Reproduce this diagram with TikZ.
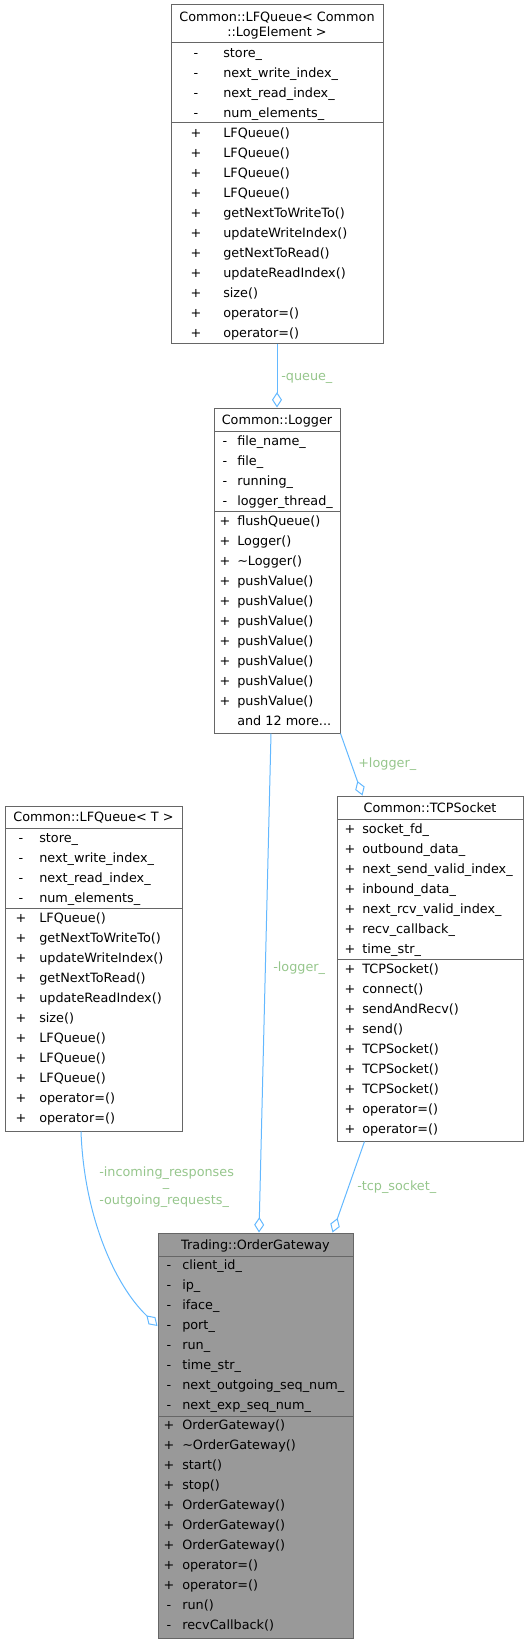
\documentclass[tikz,border=0pt]{standalone}
\usepackage{fontspec}
\setmainfont{DejaVu Sans}
\usetikzlibrary{arrows.meta,calc,fit}
\definecolor{edgeblue}{HTML}{63B8FF}
\definecolor{boxline}{HTML}{666666}
\definecolor{ogfill}{HTML}{999999}
\definecolor{lblgreen}{RGB}{150,198,140}
\newcommand\mydots{...}
% #1 prefix, #2 symbol x, #3 text x, #4 first row centre y, #5 list sym/text
\newcommand\classrows[5]{%
  \foreach \sy/\tx [count=\i] in {#5} {
    \node[symtext] (#1-s\i) at (#2, {#4+20*(\i-1)+4.5}) {\sy};
    \node[rowtext] (#1-\i) at (#3, {#4+20*(\i-1)+4.5}) {\tx};
  }%
}
\begin{document}
\begin{tikzpicture}[x=0.75pt,y=-0.75pt,
  font=\fontsize{9.6}{11.5}\selectfont,
  classbox/.style={draw=boxline, line width=0.75pt, inner sep=0pt, fill=white},
  sepline/.style={draw=boxline, line width=0.75pt},
  symtext/.style={anchor=base, inner sep=0pt},
  rowtext/.style={anchor=base west, inner sep=0pt},
  headtext/.style={anchor=base, inner sep=0pt},
  lbl/.style={anchor=base west, inner sep=0pt, text=lblgreen},
  edge/.style={draw=edgeblue, line width=0.75pt, -{Diamond[open,length=11.5pt,width=7.5pt]}}
]
\useasboundingbox (0,0) rectangle (529,1644);

% ---------- Common::LFQueue< Common::LogElement > ----------
\node[classbox, fit={(171,5) (383,343)}] (lfql) {};
\draw[sepline] (171,43) -- (383,43);
\draw[sepline] (171,123) -- (383,123);
\node[headtext] (lfql-h1) at (277,22) {Common::LFQueue\textless{} Common};
\node[headtext] (lfql-h2) at (277,37) {::LogElement \textgreater};
\classrows{lfqla}{196}{223}{53}{-/store\_, -/next\_write\_index\_, -/next\_read\_index\_, -/num\_elements\_}
\classrows{lfqlm}{196}{223}{133}{+/LFQueue(), +/LFQueue(), +/LFQueue(), +/LFQueue(), +/getNextToWriteTo(), +/updateWriteIndex(), +/getNextToRead(), +/updateReadIndex(), +/size(), +/operator=(), +/operator=()}

% ---------- Common::Logger ----------
\node[classbox, fit={(214,408) (340,733)}] (logger) {};
\draw[sepline] (214,431) -- (340,431);
\draw[sepline] (214,511) -- (340,511);
\node[headtext] (logger-h) at (277,424) {Common::Logger};
\classrows{loga}{225}{237}{441}{-/file\_name\_, -/file\_, -/running\_, -/logger\_thread\_}
\classrows{logm}{225}{237}{521}{+/flushQueue(), +/Logger(), +/\textasciitilde Logger(), +/pushValue(), +/pushValue(), +/pushValue(), +/pushValue(), +/pushValue(), +/pushValue(), +/pushValue(), /and 12 more\mydots}

% ---------- Common::LFQueue< T > ----------
\node[classbox, fit={(5,806) (182,1131)}] (lfqt) {};
\draw[sepline] (5,828) -- (182,828);
\draw[sepline] (5,908) -- (182,908);
\node[headtext] (lfqt-h) at (93.5,821.5) {Common::LFQueue\textless{} T \textgreater};
\classrows{lfqta}{21}{39}{838}{-/store\_, -/next\_write\_index\_, -/next\_read\_index\_, -/num\_elements\_}
\classrows{lfqtm}{21}{39}{918}{+/LFQueue(), +/getNextToWriteTo(), +/updateWriteIndex(), +/getNextToRead(), +/updateReadIndex(), +/size(), +/LFQueue(), +/LFQueue(), +/LFQueue(), +/operator=(), +/operator=()}

% ---------- Common::TCPSocket ----------
\node[classbox, fit={(337,796) (523,1141)}] (tcp) {};
\draw[sepline] (337,819) -- (523,819);
\draw[sepline] (337,959) -- (523,959);
\node[headtext] (tcp-h) at (430,812) {Common::TCPSocket};
\classrows{tcpa}{350}{362}{829}{+/socket\_fd\_, +/outbound\_data\_, +/next\_send\_valid\_index\_, +/inbound\_data\_, +/next\_rcv\_valid\_index\_, +/recv\_callback\_, +/time\_str\_}
\classrows{tcpm}{350}{362}{969}{+/TCPSocket(), +/connect(), +/sendAndRecv(), +/send(), +/TCPSocket(), +/TCPSocket(), +/TCPSocket(), +/operator=(), +/operator=()}

% ---------- Trading::OrderGateway ----------
\node[classbox, fill=ogfill, fit={(158,1233) (353,1638)}] (og) {};
\draw[sepline] (158,1256) -- (353,1256);
\draw[sepline] (158,1416) -- (353,1416);
\node[headtext] (og-h) at (255.5,1249) {Trading::OrderGateway};
\classrows{oga}{169}{182}{1265}{-/client\_id\_, -/ip\_, -/iface\_, -/port\_, -/run\_, -/time\_str\_, -/next\_outgoing\_seq\_num\_, -/next\_exp\_seq\_num\_}
\classrows{ogm}{169}{182}{1425}{+/OrderGateway(), +/\textasciitilde OrderGateway(), +/start(), +/stop(), +/OrderGateway(), +/OrderGateway(), +/OrderGateway(), +/operator=(), +/operator=(), -/run(), -/recvCallback()}

% ---------- connectors ----------
\draw[edge] (lfql.south) -- (logger.north);
\draw[edge] (logger.south east) -- ($(tcp.north west)+(26,0)$);
\draw[edge] ($(logger.south)+(-6,0)$) -- ($(og.north)+(3.5,0)$);
\draw[edge] ($(tcp.south west)+(28,0)$) -- ($(og.north east)+(-21,0)$);
\draw[edge] ($(lfqt.south)+(-12.5,0)$) .. controls +(3,84) and +(-43,-41) .. ($(og.west)+(0,-109.5)$);

% ---------- labels ----------
\node[lbl] (lq) at (281,380) {-queue\_};
\node[lbl] (lpl) at (358,767) {+logger\_};
\node[lbl] (lml) at (273,971.5) {-logger\_};
\node[lbl] (lts) at (357,1190) {-tcp\_socket\_};
\node[lbl] (lin) at (99,1176) {-incoming\_responses};
\node[lbl, anchor=base] (lin2) at (166,1186) {\_};
\node[lbl] (lout) at (99,1204) {-outgoing\_requests\_};
\end{tikzpicture}
\end{document}
